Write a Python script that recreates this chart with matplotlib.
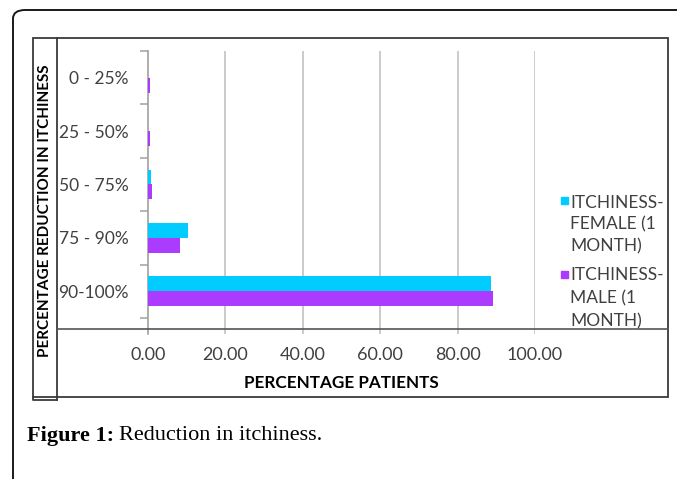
import numpy as np
import matplotlib
matplotlib.use('Agg')
import matplotlib.pyplot as plt
from matplotlib.patches import Rectangle, FancyBboxPatch
from matplotlib.lines import Line2D

categories = ['0 - 25%', '25 - 50%', '50 - 75%', '75 - 90%', '90-100%']
female = [0.0, 0.0, 0.8, 10.3, 88.6]
male = [0.4, 0.4, 1.0, 8.3, 89.1]
xticks = [0, 20, 40, 60, 80, 100]
fem_label = ['ITCHINESS-', 'FEMALE (1', 'MONTH)']
male_label = ['ITCHINESS-', 'MALE (1', 'MONTH)']

c_fem = '#00CCFF'
c_male = '#AA3BFF'
grey = '#404040'

W, H = 677, 479
fig = plt.figure(figsize=(W / 100, H / 100), dpi=100)
plt.rcParams['font.family'] = ['Lato', 'DejaVu Sans']


def fx(x):
    return x / W


def fy(y):
    return 1 - y / H


# outer rounded frame (runs off the page right and bottom)
frame = FancyBboxPatch((fx(13), fy(500)), fx(700), fy(10) - fy(500),
                       boxstyle='round,pad=0,rounding_size=0.018',
                       transform=fig.transFigure, fill=False,
                       ec='#1a1a1a', lw=1.4)
fig.add_artist(frame)

# chart box
fig.add_artist(Rectangle((fx(33), fy(397)), fx(668) - fx(33), fy(38) - fy(397),
                         transform=fig.transFigure, fill=False, ec='#3a3a3a', lw=1.3))
# y label strip
fig.add_artist(Line2D([fx(57), fx(57)], [fy(38), fy(400)],
                      transform=fig.transFigure, color='#3a3a3a', lw=1.3))
fig.add_artist(Line2D([fx(33), fx(33), fx(57)], [fy(397), fy(400), fy(400)],
                      transform=fig.transFigure, color='#3a3a3a', lw=1.3))
# horizontal divider above tick labels
fig.add_artist(Line2D([fx(57), fx(668)], [fy(329), fy(329)],
                      transform=fig.transFigure, color='#555555', lw=1.2))

# main axes: x 0..100 -> px 148..535, y from 51 to 334
ax = fig.add_axes([fx(148), fy(334), fx(535) - fx(148), fy(51) - fy(334)])
ax.patch.set_alpha(0)
n = len(categories)
pos = np.arange(n)
h = 0.28
ax.barh(pos - h / 2, female, height=h, color=c_fem, zorder=3)
ax.barh(pos + h / 2, male, height=h, color=c_male, zorder=3)
ax.set_xlim(0, 100)
ax.set_ylim(n - 0.5 + 0.3, -0.5)
for v in xticks[1:]:
    ax.axvline(v, color='#BDBDBD', lw=1.1, zorder=1)
for s in ['top', 'right', 'bottom']:
    ax.spines[s].set_visible(False)
ax.spines['left'].set_color('#A0A0A0')
ax.spines['left'].set_linewidth(1.2)
ax.set_yticks(pos)
ax.set_yticklabels(categories, fontsize=12.5, color=grey)
ax.tick_params(axis='y', length=0, pad=14)
ax.set_yticks(np.arange(n + 1) - 0.5, minor=True)
ax.tick_params(axis='y', which='minor', length=6, color='#A0A0A0', width=1.1)
ax.set_xticks([])

# x tick labels
for v in xticks:
    fig.text(fx(148 + v * 3.87), fy(355), '%.2f' % v, ha='center', va='center',
             fontsize=13, color=grey)
fig.text(fx(341), fy(383), 'PERCENTAGE PATIENTS', ha='center', va='center',
         fontsize=12.3, fontweight='bold', color='black')
fig.text(fx(45), fy(211), 'PERCENTAGE REDUCTION IN ITCHINESS', rotation=90,
         ha='center', va='center', fontsize=11, fontweight='bold', color='black')

# legend
for lines, col, ys in [(fem_label, c_fem, [201, 223, 245]),
                       (male_label, c_male, [274, 297, 320])]:
    fig.add_artist(Rectangle((fx(561), fy(ys[0] + 3.5)), fx(7), fy(0) - fy(7),
                             transform=fig.transFigure, color=col))
    for txt, y in zip(lines, ys):
        fig.text(fx(570), fy(y), txt, ha='left', va='center_baseline', fontsize=12.5,
                 color=grey)

# caption
t1 = fig.text(fx(27), fy(436), 'Figure 1:', ha='left', va='center', fontsize=16,
              fontweight='bold', family='Liberation Serif', color='black')
fig.canvas.draw()
bb = t1.get_window_extent()
fig.text(bb.x1 / W + fx(5), fy(436), 'Reduction in itchiness.', ha='left', va='center',
         fontsize=16, family='Liberation Serif', color='black')

fig.savefig('out.png', dpi=100)
